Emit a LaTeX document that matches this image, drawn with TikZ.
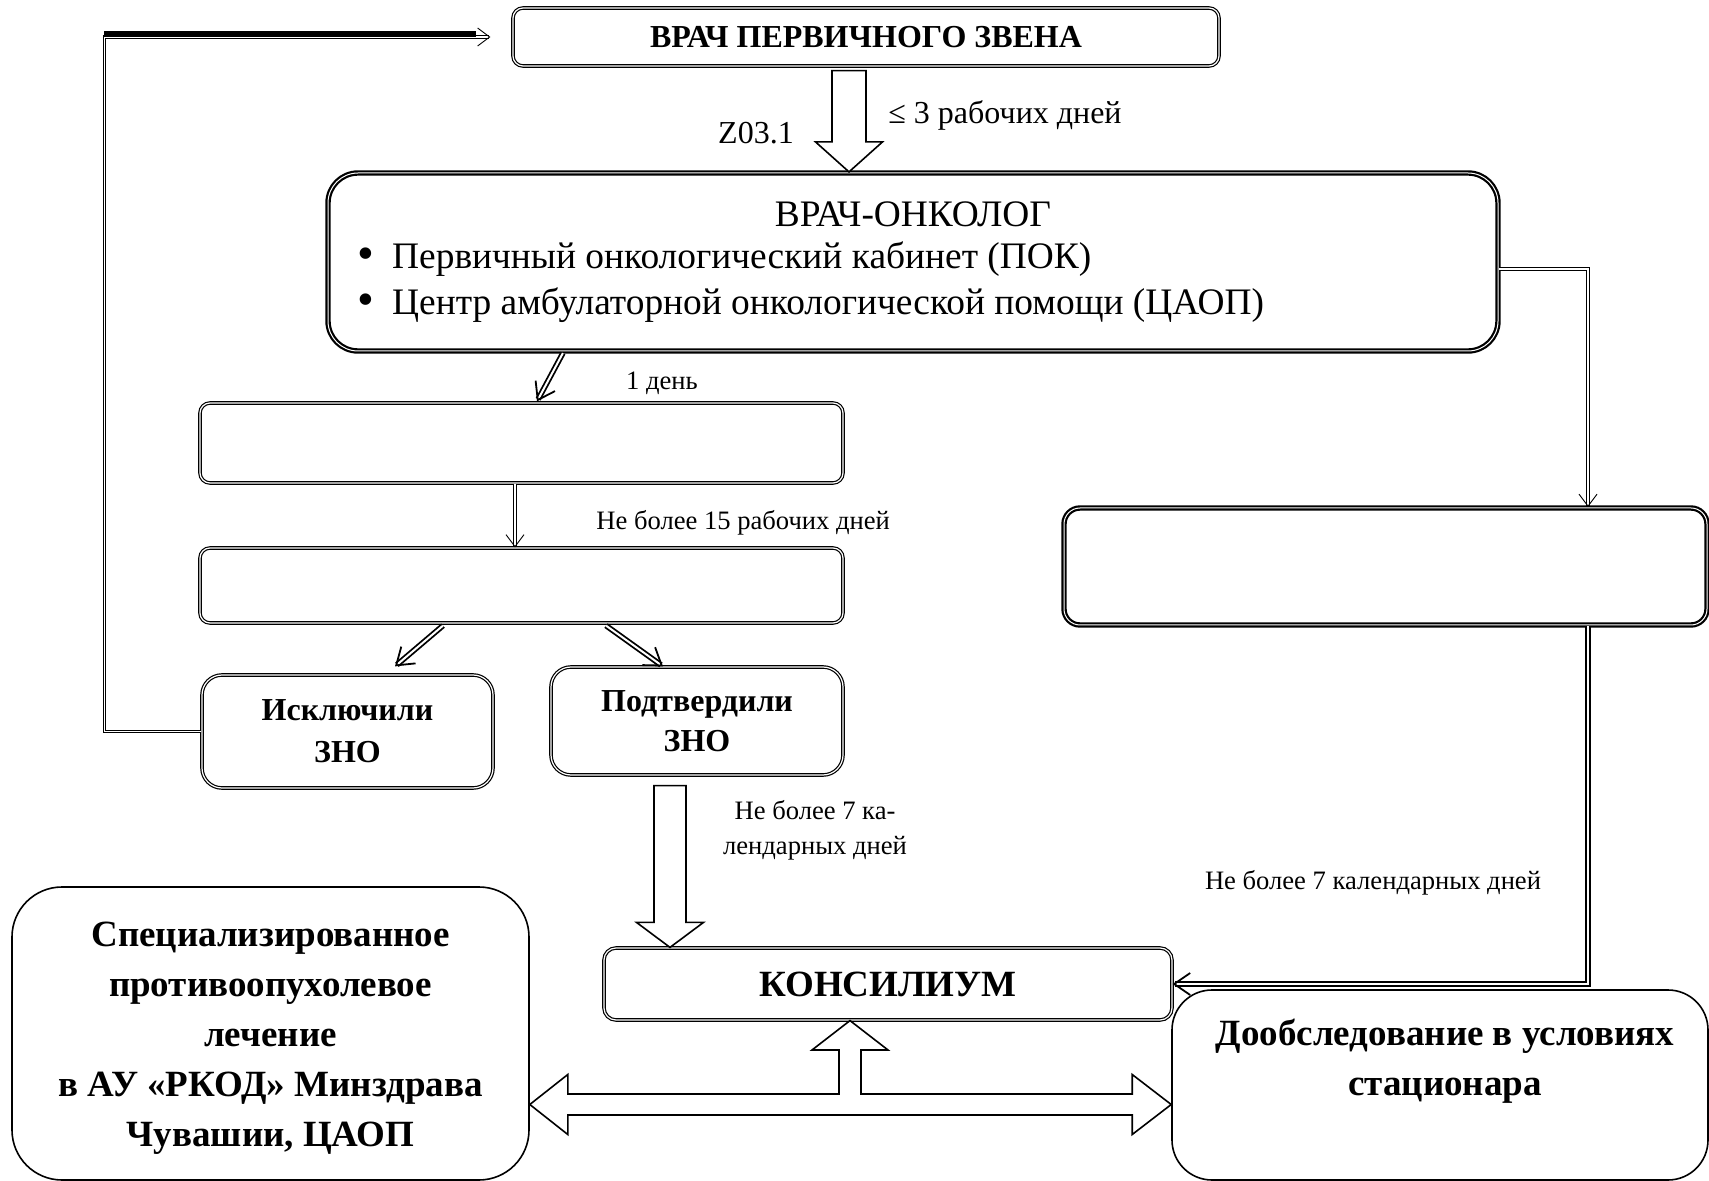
\documentclass[tikz,border=0pt]{standalone}
\usepackage{fontspec}
\setmainfont{Liberation Serif}
\usetikzlibrary{calc,arrows.meta}
\newcommand{\downblock}[5]{\draw[blk] let \p1=(#1), \p2=(#2) in (\x1-#3,\y1) -- (\x1+#3,\y1) -- (\x1+#3,\y2+#5) -- (\x1+#4,\y2+#5) -- (\x1,\y2) -- (\x1-#4,\y2+#5) -- (\x1-#3,\y2+#5) -- cycle;}
\newcommand{\bigbul}{\raisebox{-0.5pt}{\fontsize{24}{24}\selectfont •}}
\begin{document}
\begin{tikzpicture}[x=0.5pt,y=-0.5pt,
  box/.style={draw, line width=0.6pt, double=white, double distance=0.6pt, fill=white, rounded corners=5pt, inner sep=0pt},
  obox/.style={draw, line width=1.1pt, double=white, double distance=0.5pt, fill=white, rounded corners=15pt, inner sep=0pt},
  sbox/.style={draw, line width=0.8pt, fill=white, inner sep=0pt},
  blk/.style={draw, line width=0.8pt, fill=white, line join=miter},
  conn/.style={line width=0.45pt, double=white, double distance=0.9pt, -{Straight Barb[length=6pt,width=9pt]}},
  connb/.style={line width=0.9pt, double=white, double distance=1pt, -{Straight Barb[length=8pt,width=11pt]}},
  lbig/.style={font=\fontsize{16}{19}\selectfont},
  lsm/.style={font=\fontsize{13.3}{17.5}\selectfont, inner sep=0pt},
]
\fill[white] (0,0) rectangle (1709,1181);
\useasboundingbox (0,0) rectangle (1709,1181);

% boxes
\node[box, minimum width=353pt, minimum height=29pt, font=\bfseries\fontsize{16}{18}\selectfont] (top) at (866,37) {ВРАЧ ПЕРВИЧНОГО ЗВЕНА};
\node[obox, minimum width=585pt, minimum height=89pt] (onc) at (913,262) {};
\node[font=\fontsize{18.7}{22}\selectfont] (onct) at (913,214) {ВРАЧ-ОНКОЛОГ};
\node[anchor=west, inner sep=0pt, font=\fontsize{18.7}{22}\selectfont] (onc1) at (357,259) {\bigbul\hspace{9pt}Первичный онкологический кабинет (ПОК)};
\node[anchor=west, inner sep=0pt, font=\fontsize{18.7}{22}\selectfont] (onc2) at (357,305) {\bigbul\hspace{9pt}Центр амбулаторной онкологической помощи (ЦАОП)};
\node[box, minimum width=321.5pt, minimum height=40pt] (b1) at (521.5,443) {};
\node[box, minimum width=321.5pt, minimum height=37.5pt] (b2) at (521.5,585.5) {};
\node[box, rounded corners=10pt, minimum width=145.5pt, minimum height=56.5pt, align=center, font=\bfseries\fontsize{16}{21}\selectfont] (excl) at (347.5,731.5) {Исключили\\ЗНО};
\node[box, rounded corners=10pt, minimum width=146pt, minimum height=54pt, align=center, font=\bfseries\fontsize{16}{20}\selectfont] (conf) at (697,721) {Подтвердили\\ЗНО};
\node[obox, rounded corners=8pt, minimum width=321.5pt, minimum height=58.5pt] (rbox) at (1385.5,566.5) {};
\node[box, rounded corners=6pt, minimum width=284pt, minimum height=36pt, font=\bfseries\fontsize{18.5}{22}\selectfont] (kons) at (888,984) {КОНСИЛИУМ};
\node[sbox, rounded corners=25pt, minimum width=258.5pt, minimum height=146.5pt] (lbox) at (270.5,1033.5) {};
\node[align=center, font=\bfseries\fontsize{18.5}{25}\selectfont] (lboxt) at (270.5,1038) {Специализированное\\противоопухолевое\\лечение\\в АУ «РКОД» Минздрава\\Чувашии, ЦАОП};
\node[sbox, rounded corners=20pt, minimum width=268pt, minimum height=95pt] (dob) at (1440,1085) {};
\node[align=center, font=\bfseries\fontsize{18.5}{25}\selectfont] (dobt) at (1445,1061) {Дообследование в условиях\\стационара};

% labels
\node[lbig] (lz) at (756,133) {Z03.1};
\node[lbig, anchor=west, inner sep=0pt] (l3) at (888,115) {≤ 3 рабочих дней};
\node[lsm] (l1d) at (662,383) {1 день};
\node[lsm, anchor=west] (l15) at (596,523) {Не более 15 рабочих дней};
\node[lsm, align=center] (l7a) at (815,830) {Не более 7 ка-\\лендарных дней};
\node[lsm] (l7b) at (1373,883) {Не более 7 календарных дней};

% block arrows
\coordinate (ta) at ($(top.south)+(-17,4)$);
\downblock{ta}{onc.north -| ta}{8.5pt}{16.75pt}{15pt}
\coordinate (ca) at ($(conf.south)+(-27,10)$);
\downblock{ca}{kons.north -| ca}{8pt}{16.75pt}{12.5pt}

\coordinate (tj) at (850,1104.5);
\coordinate (tU) at (kons.south -| tj);
\coordinate (tL) at (lbox.east |- tj);
\coordinate (tR) at (dob.west |- tj);
\draw[blk] (tU) -- ($(tj)+(38,-54.5)$) -- ($(tj)+(11,-54.5)$) -- ($(tj)+(11,-10.5)$) -- ($(tR)+(-39,-10.5)$) -- ($(tR)+(-39,-30)$) -- (tR) -- ($(tR)+(-39,30)$) -- ($(tR)+(-39,10.5)$) -- ($(tL)+(38,10.5)$) -- ($(tL)+(38,30)$) -- (tL) -- ($(tL)+(38,-30)$) -- ($(tL)+(38,-10.5)$) -- ($(tj)+(-11,-10.5)$) -- ($(tj)+(-11,-54.5)$) -- ($(tj)+(-38,-54.5)$) -- cycle;

% connectors
\draw[connb] ($(onc.south west)+(236,1)$) -- ($(b1.north)+(15.5,-1)$);
\draw[conn] ($(b1.south)+(-6.5,0)$) -- ($(b2.north)+(-6.5,0)$);
\draw[connb] ($(b2.south)+(-78.5,2)$) -- ($(excl.north)+(47.5,-8)$);
\draw[connb] ($(b2.south)+(84.5,2)$) -- ($(conf.north)+(-34,0)$);
\coordinate (fb) at ($(excl.west)+(-97,0)$);
\draw[conn] (excl.west) -- (fb) |- ($(top.west)+(-22,0)$);
\draw[line width=3pt] ($(fb |- top.west)+(0,-3)$) -- ($(top.west)+(-36,-3)$);
\coordinate (rx) at (1588,0);
\draw[conn] ($(onc.east)+(0,7)$) -| (rbox.north -| rx);
\draw[connb] (rbox.south -| rx) |- (kons.east);
\end{tikzpicture}
\end{document}
